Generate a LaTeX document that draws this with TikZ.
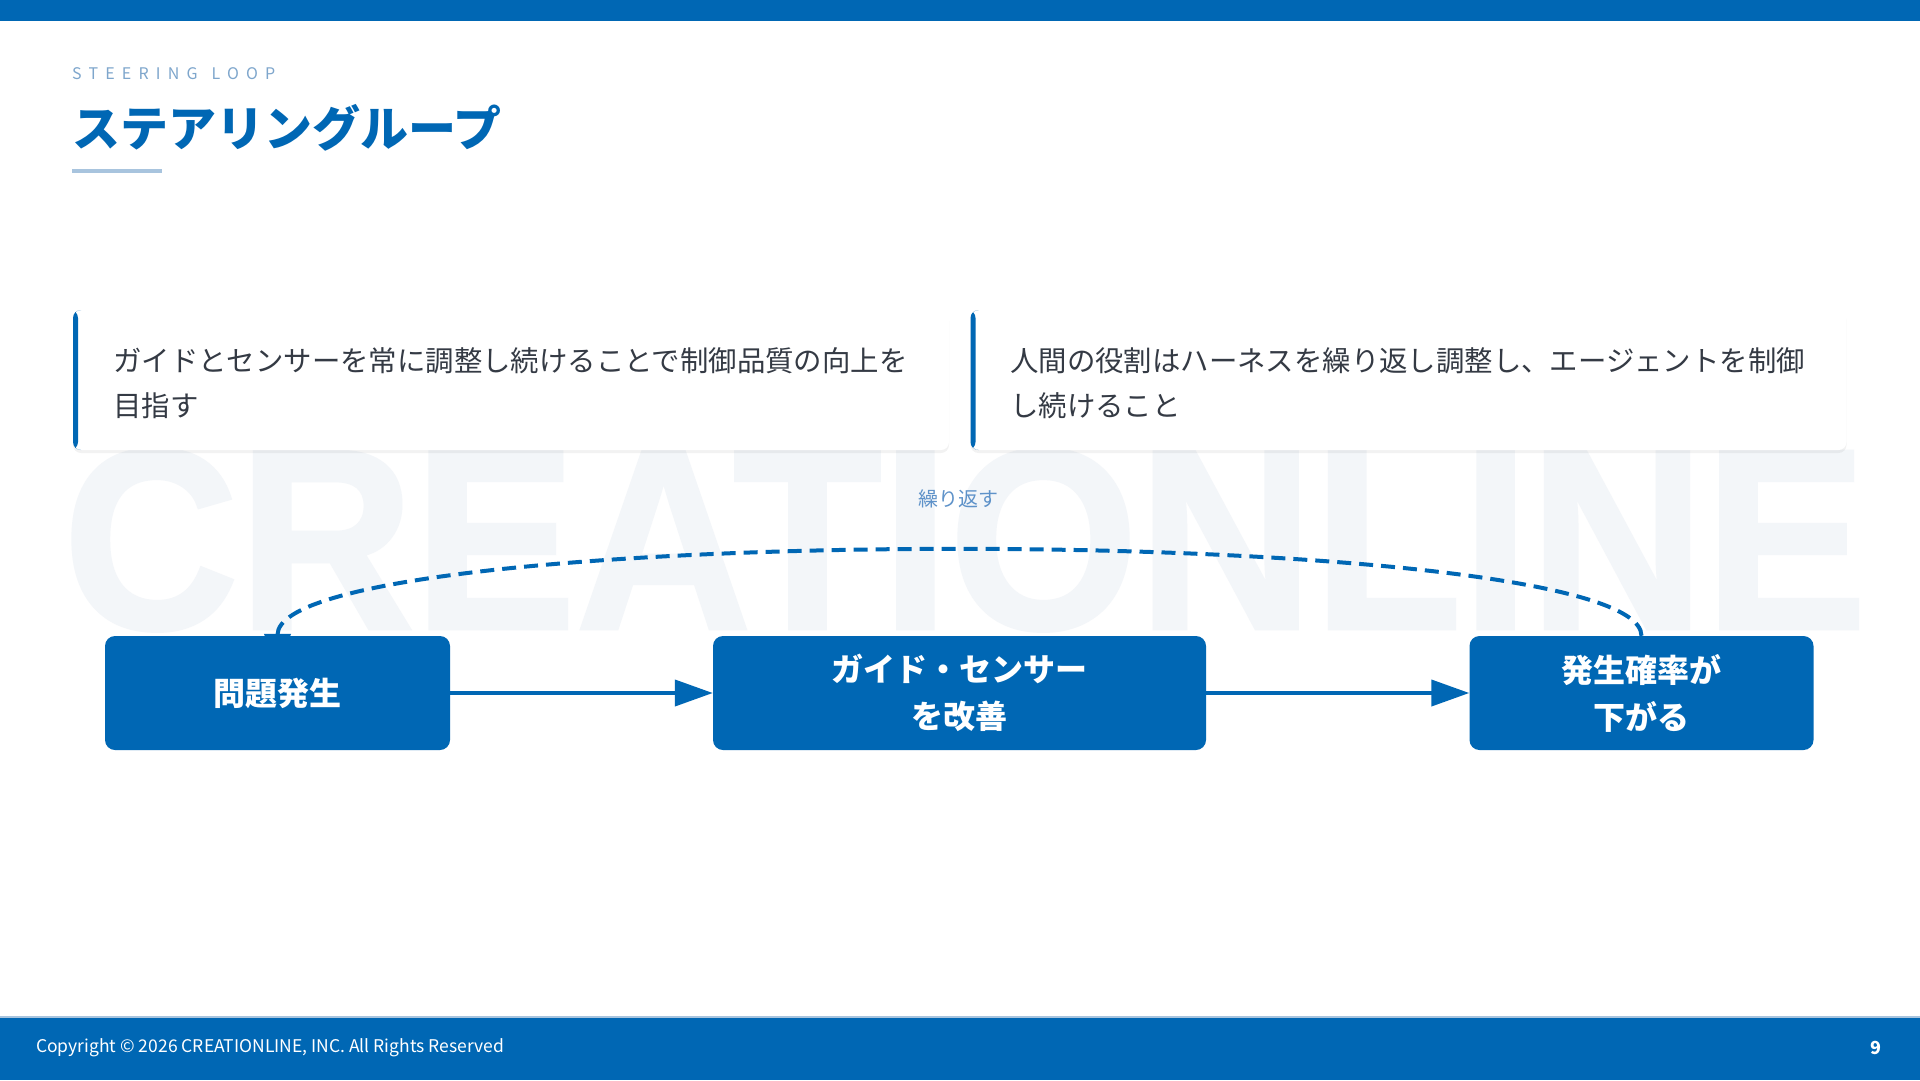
\documentclass[tikz,border=0pt]{standalone}
\usepackage{fontspec}
\setmainfont{Noto Sans CJK JP}
\newfontfamily\wmfont{Liberation Sans}[BoldFeatures={FakeBold=1.5}]
\usepackage{tikz}
\usetikzlibrary{positioning,arrows.meta,shadows}

\definecolor{brandblue}{HTML}{0067B4}
\definecolor{paleblue}{HTML}{A8C4DE}
\definecolor{kickerblue}{HTML}{7EA6CC}
\definecolor{labelblue}{HTML}{5E92C9}
\definecolor{cardgray}{HTML}{343A44}
\definecolor{markgray}{HTML}{F3F6F9}

\pgfdeclarelayer{background}
\pgfsetlayers{background,main}

\tikzset{
  stepbox/.style={rectangle, rounded corners=10pt, fill=brandblue, text=white, minimum height=114pt,
    inner sep=0pt, align=center, font=\bfseries\fontsize{32}{47}\selectfont},
  card/.style={rectangle, rounded corners=8pt, fill=white, minimum width=876pt, minimum height=140pt,
    drop shadow={shadow xshift=0pt, shadow yshift=-3pt, fill=black, opacity=0.05},
    path picture={\fill[brandblue] (path picture bounding box.south west) rectangle ([xshift=5pt]path picture bounding box.north west);}},
  cardtext/.style={anchor=north west, inner sep=0pt, text=cardgray, align=left, font=\fontsize{28.4}{45}\selectfont},
  flow/.style={-{Triangle[length=38pt,width=26pt]}, line width=4pt, draw=brandblue},
  loopline/.style={-{Triangle[length=36pt,width=26pt]}, line width=4pt, draw=brandblue, dash pattern=on 14pt off 8pt},
}

\begin{document}
\begin{tikzpicture}[x=1pt,y=-1pt]
  \useasboundingbox (0,0) rectangle (1920,1080);
  \fill[brandblue] (0,0) rectangle (1920,21);

  \node[anchor=west, inner sep=0pt, text=kickerblue, font=\fontsize{16}{16}\selectfont\addfontfeature{LetterSpace=45}] (kicker) at (72,74) {STEERING\hspace{14pt}LOOP};
  \node[anchor=west, inner sep=0pt, text=brandblue, font=\bfseries\fontsize{48}{48}\selectfont] (title) at (72,128) {ステアリングループ};
  \fill[paleblue] (72,169) rectangle (162,173);

  \node[card] (goal) at (511,380) {};
  \node[card] (role) at (1408.5,380) {};
  \node[cardtext] (goaltext) at (113,347) {ガイドとセンサーを常に調整し続けることで制御品質の向上を\\目指す};
  \node[cardtext] (roletext) at (1010,347) {人間の役割はハーネスを繰り返し調整し、エージェントを制御\\し続けること};

  \node[stepbox, minimum width=345pt] (issue) at (277.5,693) {問題発生};
  \node[stepbox, minimum width=493pt] (improve) at (959.5,693) {ガイド・センサー\\を改善};
  \node[stepbox, minimum width=344pt] (fall) at (1641.5,693) {発生確率が\\下がる};

  \draw[flow] (issue) -- (improve);
  \draw[flow] (improve) -- (fall);

  \node[text=labelblue, inner sep=0pt, font=\fontsize{20}{20}\selectfont] (again) at (958,499) {繰り返す};

  \begin{pgfonlayer}{background}
    \fill[white] (0,0) rectangle (1920,1080);
    \node[anchor=west, inner sep=0pt, text=markgray, font=\wmfont\bfseries\fontsize{257}{257}\selectfont] (mark) at (63,540) {\scalebox{0.945}[1]{CREATIONLINE}};
    \draw[loopline, shorten >=-34pt] (fall.north) .. controls (1641,520) and (278,520) .. (issue.north);
  \end{pgfonlayer}

  \fill[brandblue] (0,1017) rectangle (1920,1080);
  \draw[line width=2pt, draw=paleblue] (0,1017) -- (1920,1017);
  \node[anchor=west, inner sep=0pt, text=white, font=\fontsize{17.5}{17.5}\selectfont] (copyright) at (36,1048) {Copyright © 2026 CREATIONLINE, INC. All Rights Reserved};
  \node[inner sep=0pt, text=white, font=\bfseries\fontsize{18}{18}\selectfont] (page) at (1876,1048) {9};
\end{tikzpicture}
\end{document}
